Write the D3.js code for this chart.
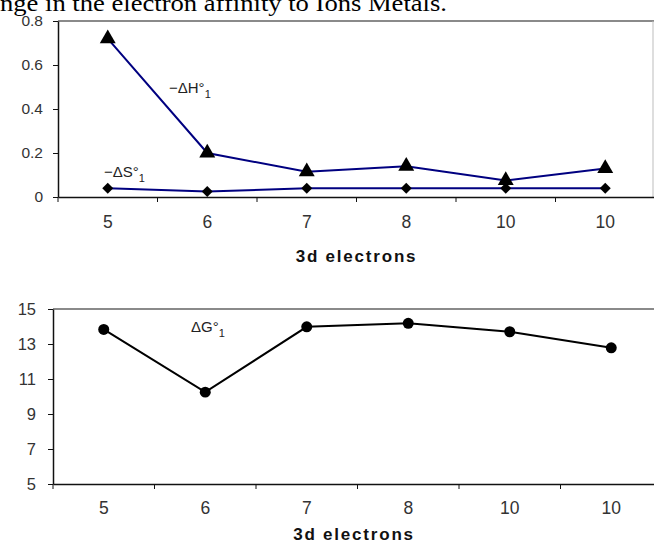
<!DOCTYPE html>
<html>
<head>
<meta charset="utf-8">
<script src="https://cdn.jsdelivr.net/npm/d3@7"></script>
<style>
  html, body { margin: 0; padding: 0; background: #fff; overflow: hidden; }
  svg { display: block; }
</style>
</head>
<body>
<script>
// values
var categories = ["5", "6", "7", "8", "10", "10"];
var enthalpy = [0.72, 0.2, 0.115, 0.14, 0.075, 0.13];   // -dH°1
var entropy = [0.04, 0.025, 0.04, 0.04, 0.04, 0.04];    // -dS°1
var gibbs = [13.83, 10.25, 13.98, 14.18, 13.7, 12.78];  // dG°1
var topTicks = [0, 0.2, 0.4, 0.6, 0.8];
var bottomTicks = [5, 7, 9, 11, 13, 15];

var W = 654, H = 549;
var svg = d3.select("body").append("svg").attr("width", W).attr("height", H);

// caption line cut off at the top of the scan
svg.append("text")
    .attr("x", 0).attr("y", 11)
    .attr("font-family", "Liberation Serif, Times New Roman, serif")
    .attr("font-size", 24)
    .attr("textLength", 447)
    .attr("lengthAdjust", "spacingAndGlyphs")
    .attr("fill", "#000")
    .text("nge in the electron affinity to Ions Metals.");

function panel(opt) {
    var x = d3.scaleBand().domain(d3.range(categories.length)).range([opt.left, opt.right]);
    var y = d3.scaleLinear().domain(opt.domain).range([opt.bottom, opt.top]);
    var cx = function (i) { return x(i) + x.bandwidth() / 2; };
    var g = svg.append("g");

    // grey frame top/right
    g.append("line").attr("x1", opt.left).attr("x2", opt.right + 2)
        .attr("y1", opt.top).attr("y2", opt.top)
        .attr("stroke", "#8a8a8a").attr("stroke-width", 2);
    if (opt.frameRight != null) {
        g.append("line").attr("x1", opt.frameRight).attr("x2", opt.frameRight)
            .attr("y1", opt.top).attr("y2", opt.bottom)
            .attr("stroke", "#bdbdbd").attr("stroke-width", 1);
    }

    // y axis
    var ya = d3.axisLeft(y).tickValues(opt.ticks).tickSize(5).tickSizeOuter(0)
        .tickPadding(opt.yPad).tickFormat(function (d) { return String(d); });
    var yg = g.append("g").attr("transform", "translate(" + opt.left + ",0)").call(ya);
    yg.select(".domain").attr("stroke", "#111").attr("stroke-width", 1.5);
    yg.selectAll(".tick line").attr("stroke", "#111");
    yg.selectAll("text").attr("font-family", "Liberation Sans, Arial, sans-serif")
        .attr("font-size", opt.yFont).attr("fill", "#333");

    // x axis: labels centred in bands, ticks on band edges
    var xa = d3.axisBottom(x).tickSize(0).tickPadding(opt.xPad)
        .tickFormat(function (i) { return categories[i]; });
    var xg = g.append("g").attr("transform", "translate(0," + opt.bottom + ")").call(xa);
    xg.select(".domain").attr("stroke", "#111").attr("stroke-width", 1.5);
    xg.selectAll("text").attr("font-family", "Liberation Sans, Arial, sans-serif")
        .attr("font-size", 17.5).attr("fill", "#333");
    xg.selectAll(".edge").data(d3.range(categories.length)).enter()
        .append("line").attr("class", "edge")
        .attr("x1", function (i) { return x(i); }).attr("x2", function (i) { return x(i); })
        .attr("y1", 0).attr("y2", 5).attr("stroke", "#111");

    svg.append("text")
        .attr("x", (opt.left + 655) / 2).attr("y", opt.titleY)
        .attr("text-anchor", "middle")
        .attr("font-family", "Liberation Sans, Arial, sans-serif")
        .attr("font-weight", "bold").attr("font-size", 17)
        .attr("letter-spacing", 1.8).attr("fill", "#111")
        .text("3d electrons");

    return { x: cx, y: y, g: g };
}

function series(p, values, color, symbol, size, rotate) {
    var line = d3.line().x(function (d, i) { return p.x(i); }).y(function (d) { return p.y(d); });
    p.g.append("path").datum(values).attr("d", line)
        .attr("fill", "none").attr("stroke", color).attr("stroke-width", 2);
    p.g.selectAll(null).data(values).enter().append("path")
        .attr("d", d3.symbol().type(symbol).size(size))
        .attr("transform", function (d, i) {
            return "translate(" + p.x(i) + "," + p.y(d) + ") rotate(" + rotate + ")";
        })
        .attr("fill", "#000");
}

function label(x, y, main, sub) {
    var t = svg.append("text").attr("x", x).attr("y", y)
        .attr("font-family", "Liberation Sans, Arial, sans-serif")
        .attr("font-size", 15).attr("fill", "#222");
    t.append("tspan").text(main);
    t.append("tspan").attr("font-size", 11).attr("dy", 5).text(sub);
}

// upper panel
var top1 = panel({ left: 58, right: 655, top: 21, bottom: 197, domain: [0, 0.8],
    ticks: topTicks, yPad: 10, yFont: 15.5, xPad: 19, titleY: 262, frameRight: 653 });
series(top1, enthalpy, "#000080", d3.symbolTriangle, 110, 0);
series(top1, entropy, "#000080", d3.symbolSquare, 60, 45);
label(169, 93, "\u2212\u0394H\u00b0", "1");
label(104, 177, "\u2212\u0394S\u00b0", "1");

// lower panel
var bot = panel({ left: 53, right: 662, top: 309, bottom: 484, domain: [5, 15],
    ticks: bottomTicks, yPad: 12, yFont: 16.5, xPad: 18, titleY: 540, frameRight: null });
series(bot, gibbs, "#000", d3.symbolCircle, 95, 0);
label(191, 332, "\u0394G\u00b0", "1");
</script>
</body>
</html>
